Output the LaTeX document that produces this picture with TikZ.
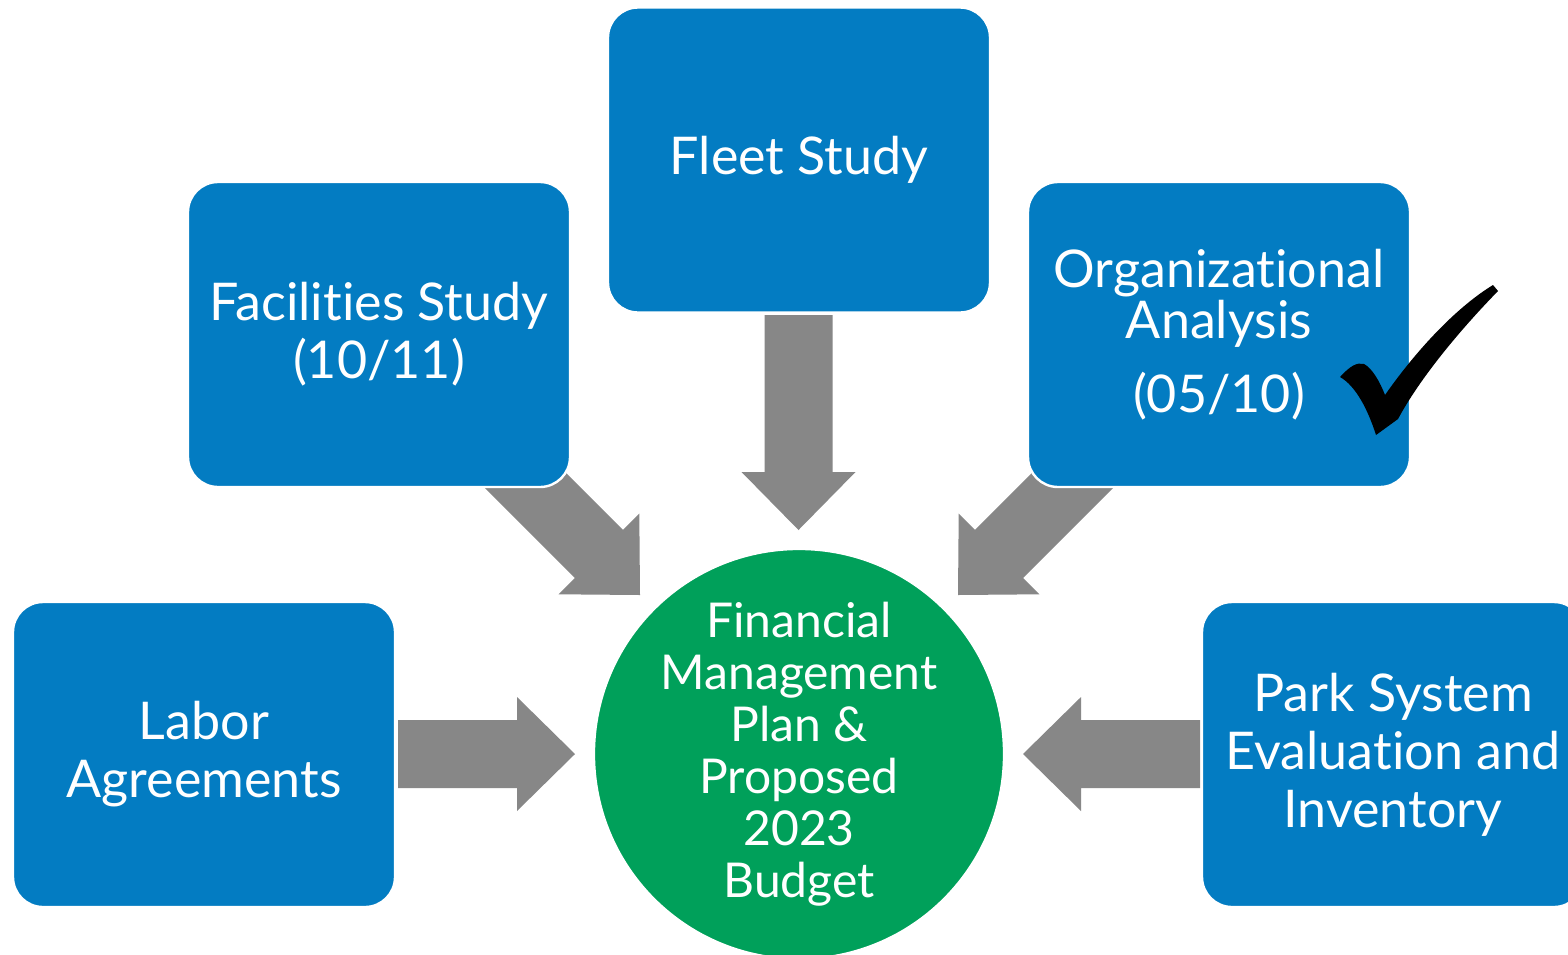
\documentclass[tikz,border=0pt]{standalone}
\usepackage{fontspec}
\setmainfont{Lato}[Ligatures={NoCommon,NoRare,NoDiscretionary}]
\usetikzlibrary{calc,backgrounds}
\definecolor{boxblue}{RGB}{3,124,194}
\definecolor{hubgreen}{RGB}{0,160,90}
\definecolor{arrgray}{RGB}{135,135,135}
\tikzset{
  box/.style={draw=white, line width=1.2pt, fill=boxblue, rounded corners=15pt,
    minimum width=191pt, minimum height=152.5pt, text=white, align=center,
    font=\fontsize{26pt}{29pt}\selectfont, inner sep=0pt},
  hub/.style={circle, draw=white, line width=1pt, fill=hubgreen, minimum size=201pt,
    text=white, align=center, font=\fontsize{24pt}{26pt}\selectfont, inner sep=0pt},
  blockarrow/.style={fill=arrgray},
  tick/.style={fill=black},
}
% block arrow from tail #1 to tip #2
\newcommand{\blockarr}[2]{%
  \coordinate (hb) at ($(#2)!29pt!(#1)$);
  \fill[blockarrow] ($(#1)!17pt!90:(#2)$) -- ($(hb)!17pt!90:(#2)$) -- ($(hb)!28.5pt!90:(#2)$)
    -- (#2) -- ($(hb)!28.5pt!-90:(#2)$) -- ($(hb)!17pt!-90:(#2)$) -- ($(#1)!17pt!-90:(#2)$) -- cycle;
}
\begin{document}
\begin{tikzpicture}[x=0.5pt,y=-0.5pt]
  \useasboundingbox (0,0) rectangle (1568,954);
  \clip (0,0) rectangle (1568,954);

  % nodes
  \node[box] (fleet) at (799,160) {Fleet Study};
  \node[box] (fac) at (379,334.5) {Facilities Study\\(10/11)};
  \node[box] (org) at (1219,334.5) {Organizational\\[-3.5pt]Analysis\\[8pt](05/10)};
  \node[box] (labor) at (204,754.5) {Labor\\Agreements};
  \node[box] (park) at (1393,754.5) {Park System\\Evaluation and\\Inventory};
  \node[hub] (hub) at (799,754) {Financial\\Management\\Plan \&\\Proposed\\2023\\Budget};

  % check mark
  \fill[tick] (1340,377) .. controls (1350,366) and (1357,362) .. (1364,364)
    .. controls (1372,368) and (1380,382) .. (1385,395)
    .. controls (1420,345) and (1460,305) .. (1493,285) -- (1498,291)
    .. controls (1460,330) and (1420,378) .. (1398,419) -- (1376,435)
    .. controls (1368,410) and (1356,386) .. (1340,377) -- cycle;

  % arrows
  \begin{scope}[on background layer]
    \fill[white] (0,0) rectangle (1568,954);
    \coordinate (t1) at (798.5,315);   \coordinate (p1) at (798.5,530);
    \coordinate (t2) at (398,754);     \coordinate (p2) at (575,754);
    \coordinate (t3) at (1200,754);    \coordinate (p3) at (1023,754);
    \coordinate (t4) at (486.5,441.5); \coordinate (p4) at (640,595);
    \coordinate (t5) at (1111.5,441.5);\coordinate (p5) at (958,595);
    \blockarr{t1}{p1}
    \blockarr{t2}{p2}
    \blockarr{t3}{p3}
    \blockarr{t4}{p4}
    \blockarr{t5}{p5}
  \end{scope}
\end{tikzpicture}
\end{document}
